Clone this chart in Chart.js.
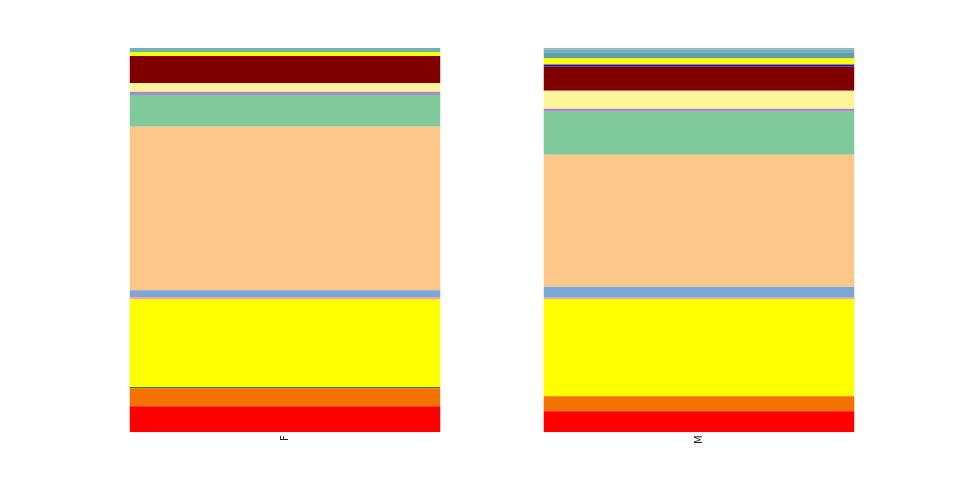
<!DOCTYPE html>
<html>
<head>
<meta charset="utf-8">
<script src="https://cdn.jsdelivr.net/npm/chart.js@4/dist/chart.umd.min.js"></script>
<style>
  html, body { margin: 0; padding: 0; background: #ffffff; }
  #wrap { width: 960px; height: 480px; position: relative; }
</style>
</head>
<body>
<div id="wrap"><canvas id="c" width="960" height="480"></canvas></div>
<script>
// Categories
const categories = ["F", "M"];

// Series values (share of each bar, percent), bottom to top
const sRed        = [6.8, 5.5];
const sOrange     = [4.7, 3.9];
const sDarkGreen  = [0.3, 0.0];
const sYellow     = [22.9, 25.3];
const sPink       = [0.5, 0.3];
const sLightBlue  = [1.8, 2.9];
const sPeach      = [42.5, 34.3];
const sGreen      = [8.3, 11.2];
const sPurple     = [0.8, 0.8];
const sLightYel   = [2.3, 4.7];
const sDarkRed    = [7.0, 6.3];
const sBlue       = [0.0, 0.5];
const sYellow2    = [1.0, 1.6];
const sBrightGrn  = [0.3, 0.0];
const sTeal       = [0.0, 1.6];
const sLightBlue2 = [0.8, 0.8];
const sLightGrn   = [0.0, 0.3];

const seriesList = [
  ["red", sRed, "#ff0000"],
  ["orange", sOrange, "#f37200"],
  ["darkgreen", sDarkGreen, "#2a7a2a"],
  ["yellow", sYellow, "#ffff00"],
  ["pink", sPink, "#ff99cc"],
  ["lightblue", sLightBlue, "#7ba7d7"],
  ["peach", sPeach, "#fdc78a"],
  ["green", sGreen, "#80c99b"],
  ["purple", sPurple, "#a68bc7"],
  ["lightyellow", sLightYel, "#fef59a"],
  ["darkred", sDarkRed, "#800000"],
  ["blue", sBlue, "#1414d0"],
  ["yellow2", sYellow2, "#ffff00"],
  ["brightgreen", sBrightGrn, "#44dd44"],
  ["teal", sTeal, "#5fa3a0"],
  ["lightblue2", sLightBlue2, "#7ba7d7"],
  ["lightgreen", sLightGrn, "#80c99b"]
];

const datasets = seriesList.map(([name, vals, color]) => ({
  label: name,
  data: vals,
  backgroundColor: color,
  borderWidth: 0,
  barPercentage: 0.75,
  categoryPercentage: 1.0
}));

new Chart(document.getElementById("c"), {
  type: "bar",
  data: { labels: categories, datasets },
  options: {
    responsive: false,
    animation: false,
    layout: { padding: { left: 78, right: 54, top: 48, bottom: 33 } },
    plugins: { legend: { display: false }, tooltip: { enabled: false } },
    scales: {
      x: {
        stacked: true,
        grid: { display: false, drawTicks: false },
        border: { display: false },
        ticks: {
          minRotation: 90, maxRotation: 90,
          padding: 3,
          color: "#222222",
          font: { family: "DejaVu Sans", size: 10 }
        }
      },
      y: {
        stacked: true,
        display: false,
        min: 0, max: 100
      }
    }
  }
});
</script>
</body>
</html>
